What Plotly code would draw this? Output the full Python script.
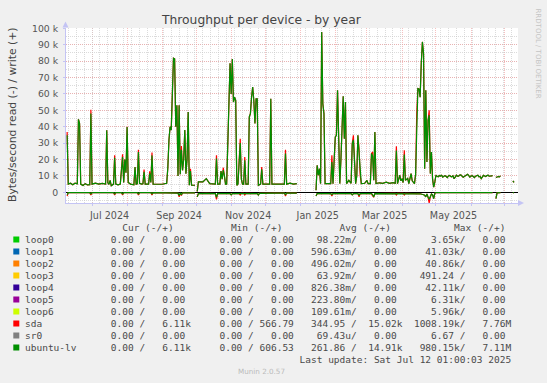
import plotly.graph_objects as go

# ---------------- data (values in kB/s) ----------------
w_dates = [
    "2024-06-09", "2024-06-10", "2024-06-12", "2024-06-14", "2024-06-16", "2024-06-18", "2024-06-19", "2024-06-20",
    "2024-06-21", "2024-06-23", "2024-06-25", "2024-06-27", "2024-06-29", "2024-06-30", "2024-07-01", "2024-07-04",
    "2024-07-07", "2024-07-10", "2024-07-13", "2024-07-14", "2024-07-15", "2024-07-16", "2024-07-17", "2024-07-18",
    "2024-07-20", "2024-07-21", "2024-07-22", "2024-07-24", "2024-07-26", "2024-07-27", "2024-07-28", "2024-07-29",
    "2024-07-30", "2024-07-31", "2024-08-01", "2024-08-02", "2024-08-04", "2024-08-07", "2024-08-08", "2024-08-09",
    "2024-08-10", "2024-08-11", "2024-08-12", "2024-08-14", "2024-08-15", "2024-08-16", "2024-08-17", "2024-08-20",
    "2024-08-21", "2024-08-22", "2024-08-23", "2024-08-24", "2024-08-28", "2024-09-01", "2024-09-05", "2024-09-06",
    "2024-09-07", "2024-09-08", "2024-09-09", "2024-09-10", "2024-09-11", "2024-09-12", "2024-09-13", "2024-09-14",
    "2024-09-15", "2024-09-16", "2024-09-17", "2024-09-18", "2024-09-19", "2024-09-20", "2024-09-21", "2024-09-22",
    "2024-09-23", "2024-09-24", "2024-09-25", "2024-09-26", "2024-09-27", "2024-09-30", "2024-10-01", "2024-10-02",
    "2024-10-03", "2024-10-07", "2024-10-10", "2024-10-13", "2024-10-16", "2024-10-18", "2024-10-19", "2024-10-20",
    "2024-10-22", "2024-10-23", "2024-10-24", "2024-10-25", "2024-10-26", "2024-10-27", "2024-10-28", "2024-10-29",
    "2024-10-30", "2024-10-31", "2024-11-01", "2024-11-02", "2024-11-03", "2024-11-04", "2024-11-05", "2024-11-06",
    "2024-11-07", "2024-11-08", "2024-11-09", "2024-11-10", "2024-11-11", "2024-11-12", "2024-11-13", "2024-11-14",
    "2024-11-16", "2024-11-17", "2024-11-18", "2024-11-19", "2024-11-20", "2024-11-21", "2024-11-22", "2024-11-23",
    "2024-11-24", "2024-11-25", "2024-11-27", "2024-11-28", "2024-11-29", "2024-12-02", "2024-12-05", "2024-12-06",
    "2024-12-07", "2024-12-11", "2024-12-15", "2024-12-18", "2024-12-19", "2024-12-20", "2024-12-23", "2024-12-26",
    "2024-12-29", "2024-12-30",
    "2025-01-15", "2025-01-16", "2025-01-17", "2025-01-18", "2025-01-19", "2025-01-20", "2025-01-21", "2025-01-22",
    "2025-01-23", "2025-01-26", "2025-01-28", "2025-01-29", "2025-01-30", "2025-02-01", "2025-02-02", "2025-02-03",
    "2025-02-04", "2025-02-05", "2025-02-06", "2025-02-07", "2025-02-08", "2025-02-09", "2025-02-10", "2025-02-11",
    "2025-02-13", "2025-02-15", "2025-02-16", "2025-02-17", "2025-02-18", "2025-02-19", "2025-02-20", "2025-02-21",
    "2025-02-22", "2025-02-23", "2025-02-24", "2025-02-27", "2025-03-01", "2025-03-02", "2025-03-04", "2025-03-05",
    "2025-03-06", "2025-03-07", "2025-03-08", "2025-03-09", "2025-03-12", "2025-03-15", "2025-03-18", "2025-03-21",
    "2025-03-24", "2025-03-26", "2025-03-27", "2025-03-28", "2025-03-30", "2025-03-31", "2025-04-01", "2025-04-02",
    "2025-04-03", "2025-04-04", "2025-04-06", "2025-04-07", "2025-04-09", "2025-04-10", "2025-04-12", "2025-04-13",
    "2025-04-14", "2025-04-15", "2025-04-16", "2025-04-17", "2025-04-18", "2025-04-19", "2025-04-20", "2025-04-21",
    "2025-04-22", "2025-04-23", "2025-04-24", "2025-04-25", "2025-04-26", "2025-04-27", "2025-04-28", "2025-04-29",
    "2025-04-30", "2025-05-01",
    "2025-05-02", "2025-05-03", "2025-05-04", "2025-05-05", "2025-05-06", "2025-05-07", "2025-05-08", "2025-05-09",
    "2025-05-10", "2025-05-11", "2025-05-12", "2025-05-13", "2025-05-14", "2025-05-15", "2025-05-16", "2025-05-17",
    "2025-05-18", "2025-05-19", "2025-05-20", "2025-05-21", "2025-05-22", "2025-05-23", "2025-05-24", "2025-05-25",
    "2025-05-26", "2025-05-27", "2025-05-28", "2025-05-29", "2025-05-30", "2025-05-31",
    "2025-06-01", "2025-06-02", "2025-06-03", "2025-06-04", "2025-06-05", "2025-06-06", "2025-06-07", "2025-06-08",
    "2025-06-09", "2025-06-10", "2025-06-11", "2025-06-12", "2025-06-13", "2025-06-14", "2025-06-15", "2025-06-16",
    "2025-06-17", "2025-06-18", "2025-06-19", "2025-06-20",
    "2025-06-21", "2025-06-23", "2025-06-24", "2025-06-25", "2025-06-26", "2025-06-27", "2025-06-28",
    "2025-07-08", "2025-07-09",
]

lv_write = [
    34.8, 5.0, 5.5, 4.6, 5.6, 5.2, 44.5, 41.9,
    5.0, 4.2, 5.3, 4.5, 4.6, 48.0, 5.0, 5.6,
    5.0, 5.4, 5.0, 37.8, 5.8, 4.8, 7.3, 4.0,
    5.0, 21.0, 5.0, 4.5, 5.0, 15.0, 21.5, 6.0,
    20.0, 12.0, 39.8, 6.0, 5.0, 4.6, 15.4, 5.0,
    5.2, 24.5, 5.5, 5.0, 5.2, 12.5, 5.0, 5.0,
    11.5, 6.0, 22.5, 5.0, 4.9, 4.9, 5.5, 15.0,
    31.9, 40.0, 38.0, 68.5, 81.7, 81.3, 40.0, 53.0,
    10.0, 53.0, 11.0, 26.0, 13.4, 20.0, 38.0, 11.4,
    20.0, 49.0, 4.3, 13.0, 4.3, 4.3, None, 0.5,
    6.3, 6.3, 8.3, 5.3, 5.0, 5.0, 20.6, 5.0,
    5.0, 13.0, 8.0, 13.5, 10.0, 5.0, 5.0, 30.0,
    48.0, 78.7, 60.0, 81.2, 55.0, 58.0, 56.0, 4.3,
    5.0, 19.5, 30.0, 8.0, 5.0, 5.0, 19.5, 5.0,
    5.0, 46.0, 48.0, 58.0, 64.2, 56.0, 42.0, 57.0,
    57.0, 4.3, 5.0, 14.0, 5.0, 5.0, 5.0, 57.0,
    5.0, 5.0, 5.2, 5.0, 23.6, 5.0, 5.6, 5.0,
    5.3, None,
    1.2, 16.5, 10.4, 14.4, 5.3, 97.8, 54.0, 48.0,
    5.3, 5.5, 5.3, 18.5, 5.3, 33.7, 34.8, 62.2,
    32.7, 5.3, 20.0, 47.0, 58.5, 32.7, 55.0, 5.3,
    7.3, 5.5, 29.7, 32.0, 21.5, 5.3, 10.0, 34.8,
    24.0, 10.4, 5.3, 5.5, 7.3, 5.3, 5.3, 23.6,
    22.0, 7.3, 36.8, 5.3, 5.8, 5.5, 6.2, 5.5,
    5.9, 5.5, 25.5, 5.3, 10.4, 7.0, 8.3, 6.0,
    23.0, 7.3, 8.5, 5.3, 11.4, 7.0, 5.3, 11.0,
    48.0, 63.2, 63.0, 58.0, 78.5, 91.7, 84.6, 14.4,
    62.2, 18.5, 43.9, 47.0, 11.4, 24.6, 8.0, 3.2,
    6.3, 10.4,
    9.8, 9.5, 10.2, 9.9, 10.4, 9.3, 9.8, 10.1,
    9.6, 9.0, 10.0, 10.3, 9.7, 9.4, 10.1, 8.3,
    9.2, 10.4, 9.9, 9.8, 10.5, 10.6, 9.9, 9.2,
    9.7, 10.0, 10.3, 11.0, 10.2, 9.3,
    9.9, 10.2, 9.6, 9.0, 9.8, 10.1, 10.4, 9.5,
    9.7, 8.4, 9.5, 10.3, 9.9, 9.6, 10.2, 10.5,
    9.8, 9.7, 10.0, 10.2,
    None, 9.0, 9.3, 9.6, 9.4, 10.0, None,
    6.9, 6.1,
]

sda_write = [
    36.8, 5.0, 5.5, 4.6, 5.6, 5.2, 44.5, 41.9,
    5.0, 4.2, 5.3, 4.5, 4.6, 50.4, 5.0, 5.6,
    5.0, 5.4, 5.0, 37.8, 5.8, 4.8, 7.3, 4.0,
    5.0, 22.6, 5.0, 4.5, 5.0, 15.0, 23.2, 6.0,
    20.0, 12.0, 39.8, 6.0, 5.0, 4.6, 15.4, 5.0,
    5.2, 26.0, 5.5, 5.0, 5.2, 13.8, 5.0, 5.0,
    12.8, 6.0, 24.2, 5.0, 4.9, 4.9, 5.5, 15.0,
    31.9, 40.0, 38.0, 68.5, 81.7, 81.3, 40.0, 53.0,
    10.0, 53.0, 11.0, 28.2, 13.4, 20.0, 38.0, 11.4,
    20.0, 49.0, 4.3, 14.4, 4.3, 4.3, None, 0.5,
    6.3, 6.3, 8.3, 5.3, 5.0, 5.0, 22.6, 5.0,
    5.0, 13.0, 8.0, 15.0, 10.0, 5.0, 5.0, 30.0,
    48.0, 78.7, 60.0, 81.2, 55.0, 58.0, 56.0, 4.3,
    5.0, 19.5, 32.7, 8.0, 5.0, 5.0, 21.5, 5.0,
    5.0, 46.0, 48.0, 58.0, 64.2, 56.0, 42.0, 57.0,
    57.0, 4.3, 5.0, 15.4, 5.0, 5.0, 5.0, 57.0,
    5.0, 5.0, 5.2, 5.0, 26.0, 5.0, 5.6, 5.0,
    5.3, None,
    1.2, 16.5, 10.4, 14.4, 5.3, 97.8, 54.0, 48.0,
    5.3, 5.5, 5.3, 22.6, 5.3, 33.7, 34.8, 62.2,
    32.7, 5.3, 20.0, 47.0, 58.5, 32.7, 55.0, 5.3,
    7.3, 5.5, 29.7, 34.8, 21.5, 5.3, 10.0, 34.8,
    26.6, 10.4, 5.3, 5.5, 7.3, 5.3, 5.3, 23.6,
    24.6, 7.3, 36.8, 5.3, 5.8, 5.5, 6.2, 5.5,
    5.9, 5.5, 28.0, 5.3, 10.4, 7.0, 8.3, 6.0,
    25.6, 7.3, 8.5, 5.3, 11.4, 7.0, 5.3, 11.0,
    48.0, 63.2, 63.0, 58.0, 78.5, 91.7, 84.6, 14.4,
    62.2, 18.5, 43.9, 50.0, 11.4, 24.6, 8.0, 3.2,
    6.3, 10.4,
    9.8, 9.5, 10.2, 9.9, 10.4, 9.3, 9.8, 10.1,
    9.6, 9.0, 10.0, 10.3, 9.7, 9.4, 10.1, 8.3,
    9.2, 10.4, 9.9, 9.8, 10.5, 10.6, 9.9, 9.2,
    9.7, 10.0, 10.3, 11.0, 10.2, 9.3,
    9.9, 10.2, 9.6, 9.0, 9.8, 10.1, 10.4, 9.5,
    9.7, 8.4, 9.5, 10.3, 9.9, 9.6, 10.2, 10.5,
    9.8, 9.7, 10.0, 10.2,
    None, 9.0, 9.3, 9.6, 9.4, 10.0, None,
    6.9, 6.1,
]

r_dates = [
    "2024-06-09", "2024-06-10", "2024-06-29", "2024-06-30", "2024-07-01", "2024-07-20", "2024-07-21", "2024-07-22",
    "2024-07-27", "2024-07-28", "2024-07-29", "2024-08-10", "2024-08-11", "2024-08-12", "2024-08-22", "2024-08-23",
    "2024-08-24", "2024-09-10", "2024-09-15", "2024-09-16", "2024-09-17", "2024-09-18", "2024-09-19", "2024-09-30",
    "2024-10-01", "2024-10-02", "2024-10-03", "2024-10-10", "2024-10-18", "2024-10-19", "2024-10-20", "2024-10-31",
    "2024-11-01", "2024-11-02", "2024-11-08", "2024-11-09", "2024-11-10", "2024-11-12", "2024-11-13", "2024-11-14",
    "2024-11-24", "2024-11-25", "2024-11-26", "2024-12-10", "2024-12-18", "2024-12-19", "2024-12-20", "2024-12-29",
    "2024-12-30",
    "2025-01-15", "2025-01-16", "2025-01-28", "2025-01-29", "2025-01-30", "2025-02-15", "2025-02-16", "2025-02-17",
    "2025-02-21", "2025-02-22", "2025-02-23", "2025-03-05", "2025-03-06", "2025-03-07", "2025-03-08", "2025-03-26",
    "2025-03-27", "2025-03-28", "2025-04-02", "2025-04-03", "2025-04-04", "2025-04-12", "2025-04-17", "2025-04-20",
    "2025-04-21", "2025-04-22", "2025-04-23", "2025-04-24", "2025-04-25", "2025-04-26", "2025-04-27", "2025-04-28",
    "2025-04-29", "2025-04-30", "2025-05-01", "2025-06-20", "2025-06-21", "2025-06-23", "2025-06-24", "2025-06-27",
    "2025-06-28", "2025-07-08", "2025-07-09",
]

lv_read = [
    1.5, 0.2, 0.2, 1.0, 0.2, 0.2, 1.0, 0.2,
    0.2, 1.0, 0.2, 0.2, 1.0, 0.2, 0.2, 1.0,
    0.2, 0.3, 0.5, 2.0, 0.5, 1.4, 0.4, 0.3,
    None, 2.8, 0.8, 0.7, 0.8, 3.0, 0.8, 0.8,
    1.6, 0.8, 0.8, 1.0, 0.7, 0.7, 1.0, 0.7,
    0.8, 1.6, 0.7, 0.5, 0.5, 1.4, 0.5, 0.5,
    None,
    2.3, 0.8, 0.8, 1.4, 0.8, 0.8, 1.6, 0.8,
    0.8, 1.8, 0.8, 0.8, 1.4, 2.8, 0.8, 0.7,
    1.0, 0.7, 0.7, 1.0, 0.7, 0.6, 0.9, 1.5,
    1.8, 2.8, 1.0, 3.0, 4.0, 2.8, 1.0, 1.5,
    3.9, 0.5, 0.2, 0.2, None, 3.9, 0.3, 0.2,
    None, 0.2, 0.2,
]

sda_read = [
    2.3, 0.2, 0.2, 1.6, 0.2, 0.2, 1.6, 0.2,
    0.2, 1.6, 0.2, 0.2, 1.6, 0.2, 0.2, 1.6,
    0.2, 0.3, 0.5, 2.8, 0.5, 2.0, 0.4, 0.3,
    None, 2.8, 0.8, 0.7, 0.8, 4.3, 0.8, 0.8,
    1.6, 0.8, 0.8, 1.6, 0.7, 0.7, 1.6, 0.7,
    0.8, 1.6, 0.7, 0.5, 0.5, 2.3, 0.5, 0.5,
    None,
    2.3, 0.8, 0.8, 2.3, 0.8, 0.8, 1.6, 0.8,
    0.8, 2.8, 0.8, 0.8, 2.2, 2.8, 0.8, 0.7,
    1.6, 0.7, 0.7, 1.6, 0.7, 0.6, 0.9, 1.5,
    1.8, 2.8, 1.0, 3.0, 6.5, 2.8, 1.0, 1.5,
    3.9, 0.5, 0.2, 0.2, None, 3.9, 0.3, 0.2,
    None, 0.2, 0.2,
]

x_start = "2024-06-08 00:00"
x_end = "2025-07-12 12:00"
month_starts = ["2024-07-01", "2024-08-01", "2024-09-01", "2024-10-01", "2024-11-01", "2024-12-01",
                "2025-01-01", "2025-02-01", "2025-03-01", "2025-04-01", "2025-05-01", "2025-06-01", "2025-07-01"]
label_dates = ["2024-07-16 12:00", "2024-09-16", "2024-11-16", "2025-01-16 12:00", "2025-03-16 12:00", "2025-05-16 12:00"]
label_text = ["Jul 2024", "Sep 2024", "Nov 2024", "Jan 2025", "Mar 2025", "May 2025"]
y_tick_vals = [0, 10, 20, 30, 40, 50, 60, 70, 80, 90, 100]
y_tick_text = ["0", "10 k", "20 k", "30 k", "40 k", "50 k", "60 k", "70 k", "80 k", "90 k", "100 k"]

legend_names = ["loop0", "loop1", "loop2", "loop3", "loop4", "loop5", "loop6", "sda", "sr0", "ubuntu-lv"]
legend_colors = ["#00CC00", "#0066B3", "#FF8000", "#FFCC00", "#330099", "#990099", "#CCFF00", "#FF0000", "#808080", "#008F00"]
cur_read = ["0.00"] * 10
cur_write = ["0.00", "0.00", "0.00", "0.00", "0.00", "0.00", "0.00", "6.11k", "0.00", "6.11k"]
min_read = ["0.00"] * 10
min_write = ["0.00", "0.00", "0.00", "0.00", "0.00", "0.00", "0.00", "566.79", "0.00", "606.53"]
avg_read = ["98.22m", "596.63m", "496.02m", "63.92m", "826.38m", "223.80m", "109.61m", "344.95", "69.43u", "261.86"]
avg_write = ["0.00", "0.00", "0.00", "0.00", "0.00", "0.00", "0.00", "15.02k", "0.00", "14.91k"]
max_read = ["3.65k", "41.03k", "40.86k", "491.24", "42.11k", "6.31k", "5.96k", "1008.19k", "6.67", "980.15k"]
max_write = ["0.00", "0.00", "0.00", "0.00", "0.00", "0.00", "0.00", "7.76M", "0.00", "7.11M"]
last_update = "Last update: Sat Jul 12 01:00:03 2025"

# ---------------- layout helpers (pixel -> paper) ----------------
W, H = 547, 383
ML, MR, MT, MB = 66, 29, 28, 180
PW = W - ML - MR
PH = H - MT - MB


def px2x(px):
    return (px - ML) / PW


def px2y(py):
    return (H - MB - py) / PH


TEXT = "#555555"
AXIS = "#C4C4F4"
MGRID = "rgba(240,150,150,0.6)"
GRID = "rgba(200,200,200,0.65)"

fig = go.Figure()

fig.add_trace(go.Scatter(x=w_dates, y=sda_write, mode="lines", line=dict(color="#FF0000", width=1.2),
                         showlegend=False, hoverinfo="skip"))
fig.add_trace(go.Scatter(x=r_dates, y=[None if v is None else -v for v in sda_read], xaxis="x2", mode="lines",
                         line=dict(color="#FF0000", width=1.2), showlegend=False, hoverinfo="skip"))
fig.add_trace(go.Scatter(x=w_dates, y=lv_write, mode="lines", line=dict(color="#008F00", width=1.2),
                         showlegend=False, hoverinfo="skip"))
fig.add_trace(go.Scatter(x=r_dates, y=[None if v is None else -v for v in lv_read], xaxis="x2", mode="lines",
                         line=dict(color="#008F00", width=1.2), showlegend=False, hoverinfo="skip"))

fig.update_layout(
    width=W, height=H, autosize=False,
    margin=dict(l=ML, r=MR, t=MT, b=MB, pad=0),
    paper_bgcolor="#F0F0F0", plot_bgcolor="#FFFFFF",
    font=dict(family="DejaVu Sans", size=9.5, color=TEXT),
    hovermode=False,
    xaxis=dict(
        type="date", range=[x_start, x_end],
        tickmode="array", tickvals=label_dates, ticktext=label_text,
        showgrid=False, ticks="", ticklabelstandoff=3,
        tickfont=dict(family="DejaVu Sans", size=9.6, color=TEXT),
        showline=True, linecolor=AXIS, linewidth=1, zeroline=False,
        minor=dict(tickmode="array", tickvals=month_starts, showgrid=True, gridcolor=MGRID,
                   griddash="1px,1px", gridwidth=1, ticks="outside", ticklen=2, tickcolor=AXIS),
    ),
    xaxis2=dict(
        type="date", overlaying="x", matches="x", anchor="y", range=[x_start, x_end],
        tickmode="linear", tick0="2024-06-10", dtick=7 * 86400000,
        showgrid=True, gridcolor=GRID, griddash="1px,1px", gridwidth=1,
        showticklabels=False, ticks="", showline=False, zeroline=False,
    ),
    yaxis=dict(
        range=[-6.52, 100.18],
        tickmode="array", tickvals=y_tick_vals, ticktext=y_tick_text,
        showgrid=True, gridcolor=MGRID, griddash="1px,1px", gridwidth=1,
        ticks="outside", ticklen=2, tickcolor=AXIS, ticklabelstandoff=3,
        tickfont=dict(family="DejaVu Sans", size=9.3, color=TEXT),
        showline=True, linecolor=AXIS, linewidth=1,
        zeroline=True, zerolinecolor="#000000", zerolinewidth=1.3,
        minor=dict(dtick=5, tick0=0, showgrid=True, gridcolor=GRID, griddash="1px,1px", gridwidth=1),
    ),
)

annotations = []
shapes = []

# title
annotations.append(dict(text="Throughput per device - by year", x=px2x(261), y=px2y(19.5), xref="paper", yref="paper",
                        xanchor="center", yanchor="middle", showarrow=False,
                        font=dict(family="DejaVu Sans", size=12.3, color="#444444")))
# vertical axis title
annotations.append(dict(text="Bytes/second read (-) / write (+)", x=px2x(12), y=px2y(115), xref="paper", yref="paper",
                        xanchor="center", yanchor="middle", showarrow=False, textangle=-90,
                        font=dict(family="DejaVu Sans", size=10.8, color="#444444")))
# rrdtool watermark
annotations.append(dict(text="RRDTOOL / TOBI OETIKER", x=px2x(537.5), y=px2y(53), xref="paper", yref="paper",
                        xanchor="center", yanchor="middle", showarrow=False, textangle=90,
                        font=dict(family="DejaVu Sans", size=7, color="#C4C4C4")))
# munin version
annotations.append(dict(text="Munin 2.0.57", x=px2x(261), y=px2y(371.7), xref="paper", yref="paper",
                        xanchor="center", yanchor="middle", showarrow=False,
                        font=dict(family="DejaVu Sans", size=7.2, color="#BBBBBB")))


def fmt(s):
    if s[-1].isalpha():
        return s[:-1].rjust(6) + s[-1]
    return s.rjust(6) + " "


def cell(r, w):
    return fmt(r) + "/ " + fmt(w)


cell_ends = [29, 48, 66, 85]
MONO = dict(family="DejaVu Sans Mono", size=9.5, color="#4A4A4A")
X0 = 24.5


def add_row(text, ypx):
    annotations.append(dict(text=text.replace(" ", "\u00a0"), x=px2x(X0), y=px2y(ypx), xref="paper", yref="paper",
                            xanchor="left", yanchor="middle", showarrow=False, borderpad=0, borderwidth=0,
                            font=MONO))


header = " " * 17 + "Cur (-/+)"
header = header.ljust(36) + "Min (-/+)"
header = header.ljust(55) + "Avg (-/+)"
header = header.ljust(75) + "Max (-/+)"
add_row(header, 227.7)

for i, name in enumerate(legend_names):
    cells = [cell(cur_read[i], cur_write[i]), cell(min_read[i], min_write[i]),
             cell(avg_read[i], avg_write[i]), cell(max_read[i], max_write[i])]
    s = name
    for c, e in zip(cells, cell_ends):
        s = s.ljust(e - len(c)) + c
    yc = 239.5 + 12 * i
    add_row(s, yc)
    shapes.append(dict(type="rect", xref="paper", yref="paper",
                       x0=px2x(13.3), x1=px2x(19.3), y0=px2y(yc + 3), y1=px2y(yc - 3),
                       fillcolor=legend_colors[i], line=dict(width=0)))

add_row(last_update.rjust(85), 359.7)

# axis arrows
shapes.append(dict(type="path", xref="paper", yref="paper",
                   path=f"M {px2x(62.5)} {px2y(27.5)} L {px2x(65.5)} {px2y(21.5)} L {px2x(68.5)} {px2y(27.5)} Z",
                   fillcolor=AXIS, line=dict(width=0)))
shapes.append(dict(type="path", xref="paper", yref="paper",
                   path=f"M {px2x(518)} {px2y(200)} L {px2x(524)} {px2y(203)} L {px2x(518)} {px2y(206)} Z",
                   fillcolor=AXIS, line=dict(width=0)))

fig.update_layout(annotations=annotations, shapes=shapes)

fig.write_html("out.html")
